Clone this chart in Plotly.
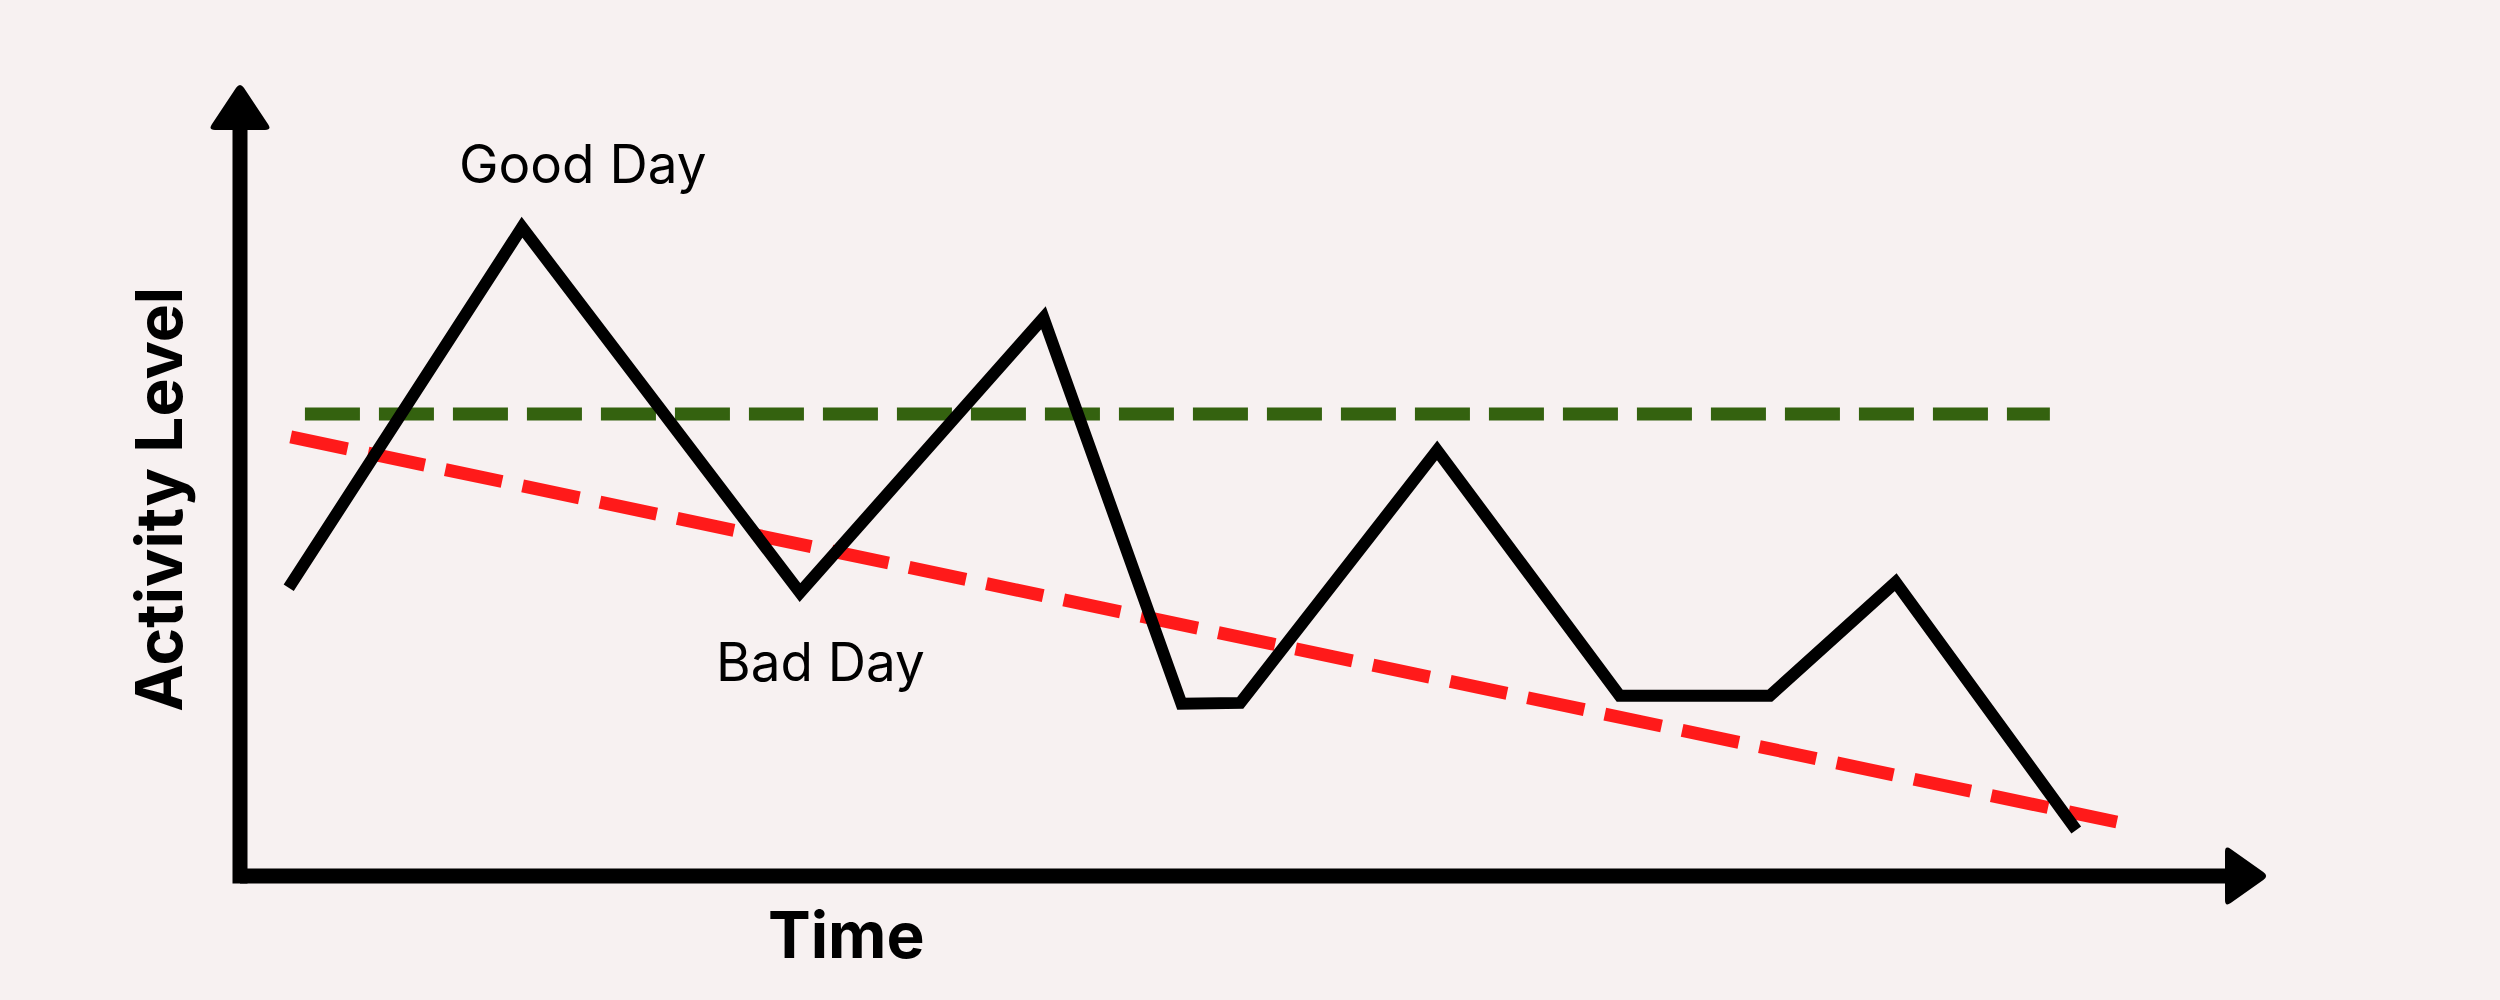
import plotly.graph_objects as go

# ---- data (time units 0..10, activity units 0..10) ----
time_pts = [0.24, 1.39, 2.76, 3.96, 4.64, 4.93, 5.90, 6.80, 7.54, 8.16, 9.05]
activity = [3.63, 8.17, 3.57, 7.03, 2.17, 2.18, 5.36, 2.27, 2.27, 3.70, 0.58]

baseline_x = [0.32, 8.92]
baseline_y = [5.82, 5.82]

trend_x = [0.25, 9.25]
trend_y = [5.53, 0.68]

labels = ["Good Day", "Bad Day"]
label_x = [1.69, 2.86]
label_y = [8.97, 2.70]

x_title = "Time"
y_title = "Activity Level"

BG = "#f7f1f1"
GREEN = "#34620f"
RED = "#ff1a1a"

# figure pixel geometry -> data units
PX_X = 202.9   # px per time unit
PX_Y = 79.4    # px per activity unit


def rounded_triangle(verts, r):
    """verts given in (time, activity) units; r = corner radius in px."""
    pts_px = [(vx * PX_X, -vy * PX_Y) for vx, vy in verts]
    n = len(pts_px)
    segs = []
    for i in range(n):
        p_prev = pts_px[i - 1]
        p = pts_px[i]
        p_next = pts_px[(i + 1) % n]

        def toward(a, b):
            dx, dy = b[0] - a[0], b[1] - a[1]
            d = (dx * dx + dy * dy) ** 0.5
            return (a[0] + dx / d * r, a[1] + dy / d * r)

        a = toward(p, p_prev)
        b = toward(p, p_next)
        segs.append((a, p, b))

    def d(pt):
        return f"{pt[0] / PX_X:.5f},{-pt[1] / PX_Y:.5f}"

    path = f"M {d(segs[0][0])} Q {d(segs[0][1])} {d(segs[0][2])}"
    for a, p, b in segs[1:]:
        path += f" L {d(a)} Q {d(p)} {d(b)}"
    path += f" L {d(segs[0][0])} Z"
    return path


fig = go.Figure()

fig.add_trace(go.Scatter(x=baseline_x, y=baseline_y, mode="lines",
                         line=dict(color=GREEN, width=13, dash="55px,19px"),
                         hoverinfo="skip", showlegend=False))
fig.add_trace(go.Scatter(x=trend_x, y=trend_y, mode="lines",
                         line=dict(color=RED, width=13, dash="58px,21px"),
                         hoverinfo="skip", showlegend=False))
fig.add_trace(go.Scatter(x=time_pts, y=activity, mode="lines",
                         line=dict(color="black", width=12),
                         hoverinfo="skip", showlegend=False))

# axes with arrowheads
y_head = rounded_triangle([(-32 / PX_X, 746 / PX_Y), (32 / PX_X, 746 / PX_Y), (0, 794 / PX_Y)], 7)
x_head = rounded_triangle([(1985 / PX_X, 31 / PX_Y), (2029 / PX_X, 0), (1985 / PX_X, -31 / PX_Y)], 7)

shapes = [
    dict(type="line", xref="x", yref="y", x0=0, x1=0, y0=-0.095, y1=9.42,
         line=dict(color="black", width=15), layer="below"),
    dict(type="line", xref="x", yref="y", x0=0, x1=9.80, y0=0, y1=0,
         line=dict(color="black", width=15), layer="below"),
    dict(type="path", xref="x", yref="y", path=y_head,
         fillcolor="black", line=dict(color="black", width=0)),
    dict(type="path", xref="x", yref="y", path=x_head,
         fillcolor="black", line=dict(color="black", width=0)),
]

annotations = []
for t, lx, ly in zip(labels, label_x, label_y):
    annotations.append(dict(x=lx, y=ly, xref="x", yref="y", text=t, showarrow=False,
                            xanchor="center", yanchor="middle",
                            font=dict(family="Inter", size=53, color="black", weight=400)))
annotations.append(dict(x=2.99, y=-0.74, xref="x", yref="y", text=x_title, showarrow=False,
                        xanchor="center", yanchor="middle",
                        font=dict(family="Inter", size=64, color="black", weight=700)))
annotations.append(dict(x=-0.40, y=4.75, xref="x", yref="y", text=y_title, showarrow=False,
                        textangle=-90, xanchor="center", yanchor="middle",
                        font=dict(family="Inter", size=64, color="black", weight=700)))

fig.update_layout(
    width=2500, height=1000,
    paper_bgcolor=BG, plot_bgcolor=BG,
    margin=dict(l=0, r=0, t=0, b=0),
    xaxis=dict(range=[-240 / PX_X, 2260 / PX_X], visible=False, fixedrange=True),
    yaxis=dict(range=[-124 / PX_Y, 876 / PX_Y], visible=False, fixedrange=True),
    shapes=shapes, annotations=annotations,
    showlegend=False,
)

fig.write_html("out.html", config={"displayModeBar": False},
               post_script="document.body.style.margin='0';document.body.style.overflow='hidden';document.body.style.background='" + BG + "';")
